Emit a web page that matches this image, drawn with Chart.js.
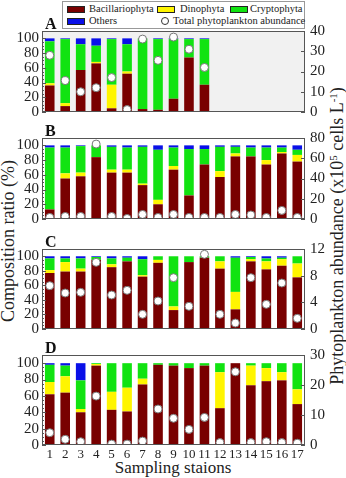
<!DOCTYPE html>
<html>
<head>
<meta charset="utf-8">
<script src="https://cdn.jsdelivr.net/npm/chart.js"></script>
<style>
  body { margin: 0; width: 346px; height: 478px; position: relative; background: #fff; overflow: hidden;
         font-family: 'Liberation Serif', serif; color: #222; }
  canvas { position: absolute; left: 0; }
  .legend { position: absolute; left: 62px; top: 1px; width: 241px; height: 26px; border: 1px solid #999; background: #fff; }
  .sw { position: absolute; width: 18px; height: 7px; border: 1px solid #222; box-sizing: border-box; }
  .lt { position: absolute; font-size: 10.5px; line-height: 12px; white-space: nowrap; }
  .dot { position: absolute; width: 8px; height: 8px; border: 1px solid #333; border-radius: 50%; box-sizing: border-box; background: #fff; }
  .title { position: absolute; white-space: nowrap; font-size: 18px; transform: translate(-50%, -50%) rotate(-90deg); }
  .xtitle { position: absolute; white-space: nowrap; font-size: 17px; transform: translate(-50%, -50%); }
  sup { font-size: 11px; vertical-align: 6px; line-height: 0; }
</style>
</head>
<body>
<div class="legend" id="legend"></div>
<div class="title" style="left:8px; top:241px;">Composition ratio (%)</div>
<div class="title" style="left:337px; top:236px;">Phytoplankton abundance (x10<sup>5</sup> cells L<sup>-1</sup>)</div>
<div class="xtitle" style="left:173px; top:468px;">Sampling staions</div>
<canvas id="pA" width="346" height="109" style="top:17px"></canvas>
<canvas id="pB" width="346" height="109" style="top:124px"></canvas>
<canvas id="pC" width="346" height="108" style="top:235px"></canvas>
<canvas id="pD" width="346" height="124" style="top:341px"></canvas>
<script>
  // stations, groups and left-axis ticks
  const stations = ['1','2','3','4','5','6','7','8','9','10','11','12','13','14','15','16','17'];
  const groups = ['Bacillariophyta', 'Dinophyta', 'Cryptophyta', 'Others'];
  const abundLabel = 'Total phytoplankton abundance';
  const ratioTicks = [0, 20, 40, 60, 80, 100];

  // panel A (stations 1-11 only)
  const baciA    = [36, 8, 57, 66, 5, 52, 4, 3, 18, 74, 37];
  const dinoA    = [3, 4, 0, 2, 32, 3, 0, 0, 0, 0, 0];
  const cryptoA  = [57, 87, 35, 22, 62, 37, 96, 96, 81, 25, 62];
  const othersA  = [4, 1, 8, 10, 1, 8, 0, 1, 1, 1, 1];
  const abundA   = [28, 15.5, 10, 12, 17, 1.2, 36, 25.5, 37, 31, 22];

  // panel B
  const baciB    = [13, 55, 58, 84, 63, 63, 46, 20, 67, 32, 74, 57, 85, 85, 74, 89, 78];
  const dinoB    = [0, 7, 5, 0, 4, 4, 2, 6, 5, 0, 0, 8, 4, 0, 6, 2, 9];
  const cryptoB  = [84, 35, 36, 16, 31, 30, 50, 68, 25, 63, 21, 33, 9, 12, 17, 6, 7];
  const othersB  = [3, 3, 1, 0, 2, 3, 2, 6, 3, 5, 5, 2, 2, 3, 3, 3, 6];
  const abundB   = [1.5, 2.5, 2.5, 74, 2.5, 0.5, 4.5, 1.5, 4.5, 1.5, 1.5, 1.5, 4.5, 4, 1.5, 8.5, 1.5];

  // panel C
  const baciC    = [77, 79, 79, 95, 85, 93, 72, 91, 26, 92, 98, 83, 27, 93, 82, 87, 71];
  const dinoC    = [4, 13, 4, 0, 4, 0, 2, 4, 5, 0, 0, 10, 24, 3, 11, 9, 19];
  const cryptoC  = [16, 5, 14, 4, 8, 5, 22, 5, 69, 8, 2, 7, 47, 3, 4, 2, 10];
  const othersC  = [3, 3, 3, 1, 3, 2, 4, 0, 0, 0, 0, 0, 2, 1, 3, 2, 0];
  const abundC   = [6.5, 5.4, 5.5, 10, 5.1, 5.8, 2.2, 4.2, 7.7, 3.4, 11.2, 2.2, 0.9, 7.7, 3.7, 6.9, 1.6];

  // panel D
  const baciD    = [62, 64, 40, 97, 43, 41, 74, 98, 97, 94, 97, 45, 100, 73, 78, 79, 50];
  const dinoD    = [15, 20, 4, 2, 22, 29, 7, 0, 0, 0, 0, 44, 0, 24, 16, 10, 18];
  const cryptoD  = [21, 13, 35, 1, 35, 30, 19, 2, 3, 6, 3, 11, 0, 3, 6, 11, 32];
  const othersD  = [2, 3, 21, 0, 0, 0, 0, 0, 0, 0, 0, 0, 0, 0, 0, 0, 0];
  const abundD   = [4.1, 1.9, 1.1, 16.3, 0.3, 0.3, 1.3, 12, 8.9, 5.2, 9.2, 0.8, 24.4, 0.8, 1.1, 0.8, 0.6];

  const FONT = 'Liberation Serif';
  const COLORS = ['#790000', '#fff500', '#11e311', '#0a10e8'];

  // legend (html)
  const legend = document.getElementById('legend');
  const legendPos = [[4, 4, 26], [94, 4, 117], [167, 4, 187], [4, 16, 26]];
  groups.forEach((g, i) => {
    const [sx, sy, tx] = legendPos[i];
    legend.insertAdjacentHTML('beforeend',
      `<div class="sw" style="left:${sx}px;top:${sy}px;background:${COLORS[i]}"></div>` +
      `<div class="lt" style="left:${tx}px;top:${sy - 3}px">${g}</div>`);
  });
  legend.insertAdjacentHTML('beforeend',
    `<div class="dot" style="left:98px;top:15px"></div><div class="lt" style="left:110px;top:13px">${abundLabel}</div>`);

  // frame, background, inner ticks and panel letter
  const framePlugin = {
    id: 'frame',
    beforeDraw(chart, args, opts) {
      const a = chart.chartArea, ctx = chart.ctx;
      ctx.save();
      ctx.fillStyle = opts.bg;
      ctx.fillRect(a.left, a.top, a.right - a.left, a.bottom - a.top);
      ctx.restore();
    },
    afterDraw(chart, args, opts) {
      const a = chart.chartArea, ctx = chart.ctx;
      const y = chart.scales.y, y1 = chart.scales.y1;
      ctx.save();
      ctx.strokeStyle = '#555';
      ctx.lineWidth = 1;
      ctx.strokeRect(a.left + 0.5, a.top + 0.5, a.right - a.left - 1, a.bottom - a.top - 1);
      ctx.beginPath();
      for (let v = 0; v <= 100; v += 5) {
        const p = Math.round(y.getPixelForValue(v)) + 0.5;
        const len = v % 20 === 0 ? 4 : 2;
        ctx.moveTo(a.left, p); ctx.lineTo(a.left + len, p);
      }
      y1.ticks.forEach(t => {
        const p = Math.round(y1.getPixelForValue(t.value)) + 0.5;
        ctx.moveTo(a.right, p); ctx.lineTo(a.right - 4, p);
      });
      ctx.stroke();
      ctx.fillStyle = '#111';
      ctx.font = 'bold 16px ' + FONT;
      ctx.textBaseline = 'alphabetic';
      ctx.fillText(opts.letter, a.left + 3, a.top - 2);
      ctx.restore();
    }
  };

  function makePanel(id, letter, series, abund, rMax, rStep, showX, bg) {
    const datasets = series.map((vals, i) => ({
      type: 'bar',
      label: groups[i],
      data: vals,
      backgroundColor: COLORS[i],
      borderWidth: 0,
      barPercentage: 0.62,
      categoryPercentage: 1,
      yAxisID: 'y',
      order: 1
    }));
    datasets.push({
      type: 'line',
      label: abundLabel,
      data: abund,
      yAxisID: 'y1',
      showLine: false,
      pointRadius: 4,
      pointBackgroundColor: '#fff',
      pointBorderColor: '#777',
      pointBorderWidth: 1,
      order: 0
    });
    const tickFont = { family: FONT, size: 15 };
    const noGrid = { display: false, drawTicks: false };
    const xAxis = {
      stacked: true,
      offset: true,
      display: showX,
      grid: noGrid,
      border: { display: false },
      ticks: { font: { family: FONT, size: 13 }, color: '#222', padding: 2, maxRotation: 0, autoSkip: false }
    };
    if (showX) xAxis.afterFit = s => { s.height = 20; };
    new Chart(document.getElementById(id), {
      data: { labels: stations, datasets },
      options: {
        responsive: false,
        animation: false,
        devicePixelRatio: 1,
        layout: { padding: { top: 14, bottom: showX ? 0 : 8, left: 0, right: 0 } },
        plugins: { legend: { display: false }, tooltip: { enabled: false }, frame: { letter, bg } },
        scales: {
          x: xAxis,
          y: {
            position: 'left',
            stacked: true,
            min: 0, max: 110,
            grid: noGrid,
            border: { display: false },
            ticks: { font: tickFont, color: '#222', padding: 3, autoSkip: false },
            afterBuildTicks(s) { s.ticks = ratioTicks.map(v => ({ value: v })); },
            afterFit(s) { s.width = 42; }
          },
          y1: {
            position: 'right',
            min: 0, max: rMax,
            grid: noGrid,
            border: { display: false },
            ticks: { stepSize: rStep, font: tickFont, color: '#222', padding: 5, autoSkip: false },
            afterFit(s) { s.width = 41; }
          }
        }
      },
      plugins: [framePlugin]
    });
  }

  makePanel('pA', 'A', [baciA, dinoA, cryptoA, othersA], abundA, 40, 10, false, '#f1f1f1');
  makePanel('pB', 'B', [baciB, dinoB, cryptoB, othersB], abundB, 80, 20, false, '#fff');
  makePanel('pC', 'C', [baciC, dinoC, cryptoC, othersC], abundC, 12, 4, false, '#fff');
  makePanel('pD', 'D', [baciD, dinoD, cryptoD, othersD], abundD, 30, 10, true, '#fff');
</script>
</body>
</html>
